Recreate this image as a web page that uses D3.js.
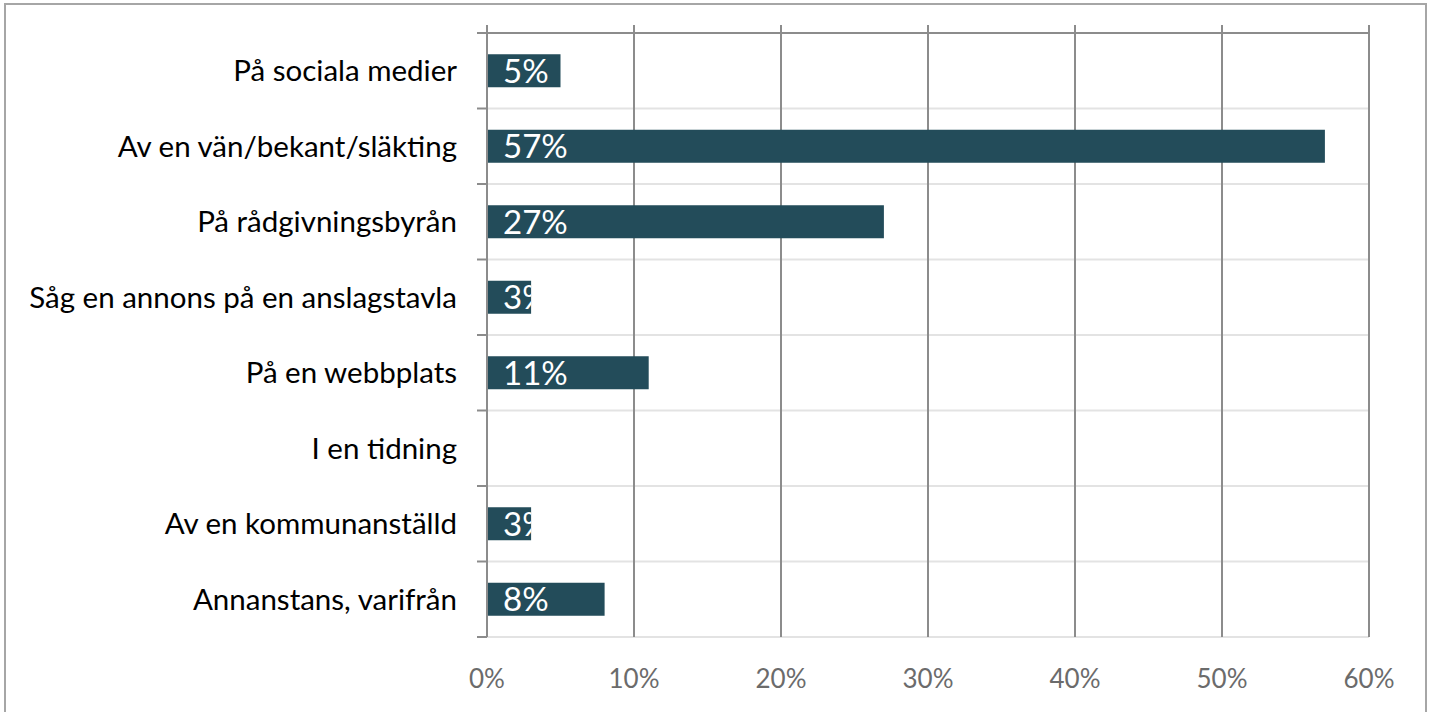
<!DOCTYPE html>
<html><head><meta charset="utf-8">
<script src="https://cdn.jsdelivr.net/npm/d3@7"></script>
<style>html,body{margin:0;padding:0;background:#fff;overflow:hidden}</style>
</head><body>
<script>
const categories = ["På sociala medier","Av en vän/bekant/släkting","På rådgivningsbyrån","Såg en annons på en anslagstavla","På en webbplats","I en tidning","Av en kommunanställd","Annanstans, varifrån"];
const values = [5,57,27,3,11,null,3,8];
const valueLabels = ["5%","57%","27%","3%","11%","","3%","8%"];
const xTicks = [0,10,20,30,40,50,60];
const xTickLabels = ["0%","10%","20%","30%","40%","50%","60%"];

const W = 1433, H = 712;
const svg = d3.select("body").append("svg").attr("width", W).attr("height", H);
const font = "Lato, 'Open Sans', sans-serif";

svg.append("rect").attr("x",5).attr("y",4).attr("width",1421).attr("height",720)
  .attr("fill","none").attr("stroke","#a6a6a6").attr("stroke-width",2);

const x = d3.scaleLinear().domain([0,60]).range([487,1369]);
const y = d3.scaleBand().domain(categories).range([33,637]).paddingInner(0).paddingOuter(0);
const bh = 33;

// horizontal separators
const seps = d3.range(categories.length+1).map(i => 33 + i*y.step());
svg.append("g").selectAll("line").data(seps).join("line")
  .attr("x1",487).attr("x2",1369).attr("y1",d=>d).attr("y2",d=>d)
  .attr("stroke",(d,i)=> i===0 ? "#8c8c8c" : "#e3e3e3").attr("stroke-width",2);

// vertical gridlines
svg.append("g").selectAll("line").data(xTicks).join("line")
  .attr("x1",d=>x(d)).attr("x2",d=>x(d)).attr("y1",25).attr("y2",637)
  .attr("stroke","#8c8c8c").attr("stroke-width",2);

// y ticks
svg.append("g").selectAll("line").data(seps).join("line")
  .attr("x1",477).attr("x2",487).attr("y1",d=>d).attr("y2",d=>d)
  .attr("stroke","#8c8c8c").attr("stroke-width",2);

// x tick labels
svg.append("g").selectAll("text").data(xTicks).join("text")
  .attr("x",d=>x(d)).attr("y",688).attr("text-anchor","middle")
  .attr("font-family",font).attr("font-size",26).attr("fill","#6b6b6b")
  .text((d,i)=>xTickLabels[i]);

// category labels
svg.append("g").selectAll("text").data(categories).join("text")
  .attr("x",457).attr("y",d=>y(d)+y.bandwidth()/2).attr("dy","0.36em")
  .attr("text-anchor","end").attr("font-family",font).attr("font-size",29.5).attr("fill","#000")
  .text(d=>d);

// bars
const defs = svg.append("defs");
const data = categories.map((c,i)=>({c, v: values[i], l: valueLabels[i], i}));
const bd = data.filter(d=>d.v!=null);
defs.selectAll("clipPath").data(bd).join("clipPath").attr("id",d=>"clip"+d.i)
  .append("rect").attr("x",x(0)).attr("y",d=>y(d.c)+y.bandwidth()/2-bh/2)
  .attr("width",d=>x(d.v)-x(0)).attr("height",bh);
svg.append("g").selectAll("rect").data(bd).join("rect")
  .attr("x",x(0)+1).attr("y",d=>y(d.c)+y.bandwidth()/2-bh/2)
  .attr("width",d=>x(d.v)-x(0)-1).attr("height",bh).attr("fill","#234c5a");
svg.append("g").selectAll("text").data(bd).join("text")
  .attr("clip-path",d=>"url(#clip"+d.i+")")
  .attr("x",x(0)+16).attr("y",d=>y(d.c)+y.bandwidth()/2).attr("dy","0.37em")
  .attr("font-family",font).attr("font-size",33).attr("fill","#fff")
  .text(d=>d.l);
</script>
</body></html>
